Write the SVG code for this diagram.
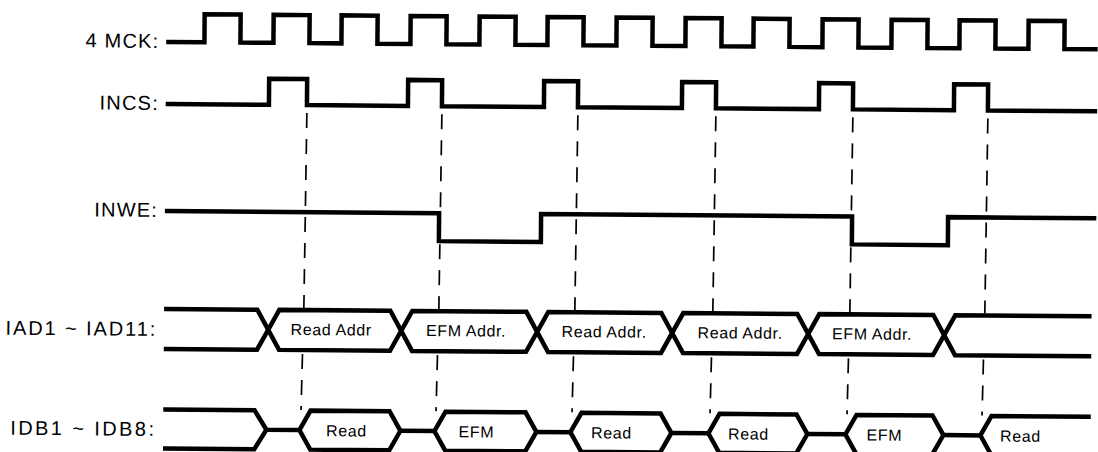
<svg xmlns="http://www.w3.org/2000/svg" width="1098" height="452" viewBox="0 0 1098 452">
<style>
.w{fill:none;stroke:#000;stroke-width:4.5;stroke-linejoin:miter;stroke-linecap:square}
.d{fill:none;stroke:#000;stroke-width:1.7;stroke-dasharray:15 11}
.lbl{font-family:"Liberation Sans",Arial,sans-serif;font-size:20px;letter-spacing:1.2px;fill:#000;text-anchor:end}
.t{font-family:"Liberation Sans",Arial,sans-serif;font-size:16px;letter-spacing:0.6px;fill:#000;text-anchor:middle}
</style>
<rect width="1098" height="452" fill="#fff"/>
<g transform="rotate(0.45 549 226)">
<g id="connectors">
<path class="d" d="M306,115L304.5,310M303.5,356L302.5,412"/>
<path class="d" d="M441,115L439.5,310M438.5,356L437.5,412"/>
<path class="d" d="M577,115L575.5,310M574.5,356L573.5,412"/>
<path class="d" d="M715,115L713.5,310M712.5,356L711.5,412"/>
<path class="d" d="M852,115L850.5,310M849.5,356L848.5,412"/>
<path class="d" d="M987,115L985.5,310M984.5,356L983.5,412"/>
</g>
<g id="mck">
<text class="lbl" x="158" y="51">4 MCK:</text>
<path class="w" d="M167,45H203V17H239V45H272V17H308V45H340V17H376V45H409V17H445V45H478V17H514V45H546V17H582V45H615V17H651V45H684V17H720V45H752V17H788V45H821V17H857V45H890V17H926V45H958V17H994V45H1027V17H1063V45H1094"/>
</g>
<g id="incs">
<text class="lbl" x="158" y="113">INCS:</text>
<path class="w" d="M167,107H268V81H306V107H407V81H441V107H543V81H577V107H681V81H715V107H818V81H852V107H953V81H987V107H1094"/>
</g>
<g id="inwe">
<text class="lbl" x="158" y="220">INWE:</text>
<path class="w" d="M167,214H439V242H541V214H852V242H948V214H1094"/>
</g>
<g id="iad">
<text class="lbl" x="158" y="339" style="letter-spacing:1.9px">IAD1 ~ IAD11:</text>
<path class="w" d="M167,312H258L269,332L258,352H167"/>
<path class="w" d="M269,332L280,312H391L402,332L391,352H280Z"/>
<path class="w" d="M402,332L413,312H527L538,332L527,352H413Z"/>
<path class="w" d="M538,332L549,312H662L673,332L662,352H549Z"/>
<path class="w" d="M673,332L684,312H798L809,332L798,352H684Z"/>
<path class="w" d="M809,332L820,312H934L945,332L934,352H820Z"/>
<path class="w" d="M1090,312H956L945,332L956,352H1090"/>
<text class="t" x="332" y="337">Read Addr</text>
<text class="t" x="467" y="337">EFM Addr.</text>
<text class="t" x="605" y="337">Read Addr.</text>
<text class="t" x="741" y="337">Read Addr.</text>
<text class="t" x="873" y="337">EFM Addr.</text>
</g>
<g id="idb">
<text class="lbl" x="158" y="439" style="letter-spacing:2.4px">IDB1 ~ IDB8:</text>
<path class="w" d="M167,412.5H256L268,432H301"/>
<path class="w" d="M167,451.5H256L268,432"/>
<path class="w" d="M301,432L312,412.5H391L402,432L391,451.5H312Z"/>
<path class="w" d="M402,432H436"/>
<path class="w" d="M436,432L447,412.5H527L538,432L527,451.5H447Z"/>
<path class="w" d="M538,432H572"/>
<path class="w" d="M572,432L583,412.5H662L673,432L662,451.5H583Z"/>
<path class="w" d="M673,432H710"/>
<path class="w" d="M710,432L721,412.5H798L809,432L798,451.5H721Z"/>
<path class="w" d="M809,432H847"/>
<path class="w" d="M847,432L858,412.5H934L945,432L934,451.5H858Z"/>
<path class="w" d="M945,432H982"/>
<path class="w" d="M1090,412.5H993L982,432L993,451.5H1090"/>
<text class="t" x="348" y="438">Read</text>
<text class="t" x="478" y="438">EFM</text>
<text class="t" x="613" y="438">Read</text>
<text class="t" x="750" y="438">Read</text>
<text class="t" x="886" y="438">EFM</text>
<text class="t" x="1022" y="438">Read</text>
</g>
</g>
</svg>
